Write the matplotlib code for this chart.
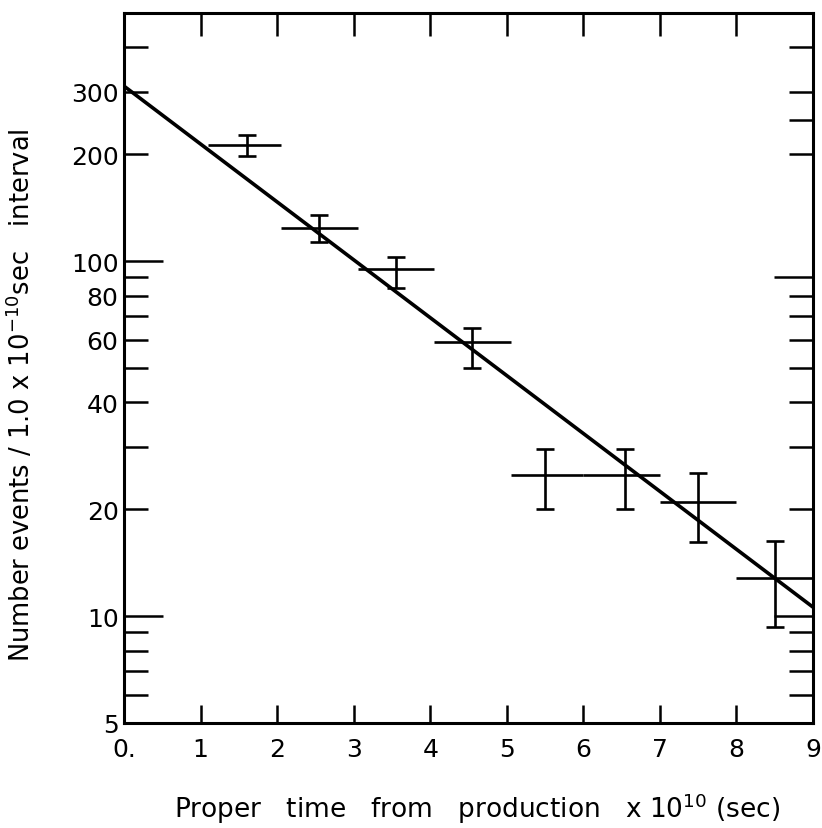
import numpy as np
import matplotlib
matplotlib.use("Agg")
import matplotlib.pyplot as plt

# decay-time histogram (events per 1e-10 s bin) with fitted exponential
t_center = [1.6, 2.55, 3.55, 4.55, 5.5, 6.55, 7.5, 8.5]
t_left = [1.1, 2.05, 3.05, 4.05, 5.05, 6.0, 7.0, 8.0]
t_right = [2.05, 3.05, 4.05, 5.05, 6.0, 7.0, 8.0, 9.0]
counts = [212, 124, 95, 59, 25, 25, 21, 12.8]
counts_lo = [198, 113, 84, 50, 20, 20, 16.2, 9.3]
counts_hi = [226, 135, 103, 65, 29.6, 29.6, 25.3, 16.3]

fit_t = [0, 9]
fit_n = [311, 10.6]

x_ticks = [0, 1, 2, 3, 4, 5, 6, 7, 8, 9]
x_labels = ["0.", "1", "2", "3", "4", "5", "6", "7", "8", "9"]
y_long = [10, 100]
y_short = [400, 300, 200, 90, 80, 70, 60, 50, 40, 30, 20, 9, 8, 7, 6, 5]
y_labels = {300: "300", 200: "200", 80: "80", 60: "60", 40: "40", 20: "20", 5: "5"}
right_long = [10, 90]
right_short = [400, 300, 250, 200, 80, 70, 60, 50, 40, 30, 20, 9, 8, 7, 6]

FS = 18
LW = 2.2

fig = plt.figure(figsize=(8.22, 8.29), dpi=100)
ax = fig.add_axes([0.151, 0.1267, 0.838, 0.8564])
ax.set_yscale("log")
ax.set_xlim(0, 9)
ax.set_ylim(5, 500)

t_c = np.array(t_center)
n = np.array(counts)
xerr = [t_c - np.array(t_left), np.array(t_right) - t_c]
yerr = [n - np.array(counts_lo), np.array(counts_hi) - n]
# time bins drawn without caps, count errors with caps
ax.errorbar(t_c, n, xerr=xerr, fmt="none", ecolor="black",
            elinewidth=1.9, capsize=0, zorder=3)
ax.errorbar(t_c, n, yerr=yerr, fmt="none", ecolor="black",
            elinewidth=1.9, capsize=6.5, capthick=1.9, zorder=3)
ax.plot(fit_t, fit_n, color="black", lw=2.6, zorder=4, solid_capstyle="butt")

for s in ax.spines.values():
    s.set_linewidth(LW)

# bottom axis
ax.set_xticks(x_ticks, labels=x_labels)
ax.tick_params(axis="x", which="major", direction="in", length=13, width=1.8,
               labelsize=FS, pad=10)

# left axis: long ticks at 10 and 100, short ticks elsewhere
ax.yaxis.set_major_locator(matplotlib.ticker.FixedLocator(y_long))
ax.yaxis.set_major_formatter(matplotlib.ticker.FixedFormatter(["10", "100"]))
ax.set_yticks(y_short, labels=[y_labels.get(v, "") for v in y_short], minor=True)
ax.tick_params(axis="y", which="major", direction="in", length=28, width=1.8,
               labelsize=FS, pad=4)
ax.tick_params(axis="y", which="minor", direction="in", length=17, width=1.8,
               labelsize=FS, pad=4)

# top ticks
top = ax.secondary_xaxis("top")
top.set_xticks(x_ticks[1:-1], labels=[""] * 8)
top.tick_params(direction="in", length=16.5, width=1.8)
top.spines["top"].set_visible(False)

# right ticks
right = ax.secondary_yaxis("right")
right.set_yticks(right_long, labels=["", ""])
right.set_yticks(right_short, labels=[""] * len(right_short), minor=True)
right.tick_params(which="major", direction="in", length=28, width=1.8)
right.tick_params(which="minor", direction="in", length=17, width=1.8)
right.spines["right"].set_visible(False)

ax.set_ylabel(r"Number events / 1.0 x 10$^{-10}$sec   interval", fontsize=18.5)
ax.yaxis.set_label_coords(-0.128, 0.463)
ax.set_xlabel(r"Proper   time   from   production   x 10$^{10}$ (sec)", fontsize=19)
ax.xaxis.set_label_coords(0.512, -0.095)

fig.savefig("out.png", dpi=100, facecolor="white")
